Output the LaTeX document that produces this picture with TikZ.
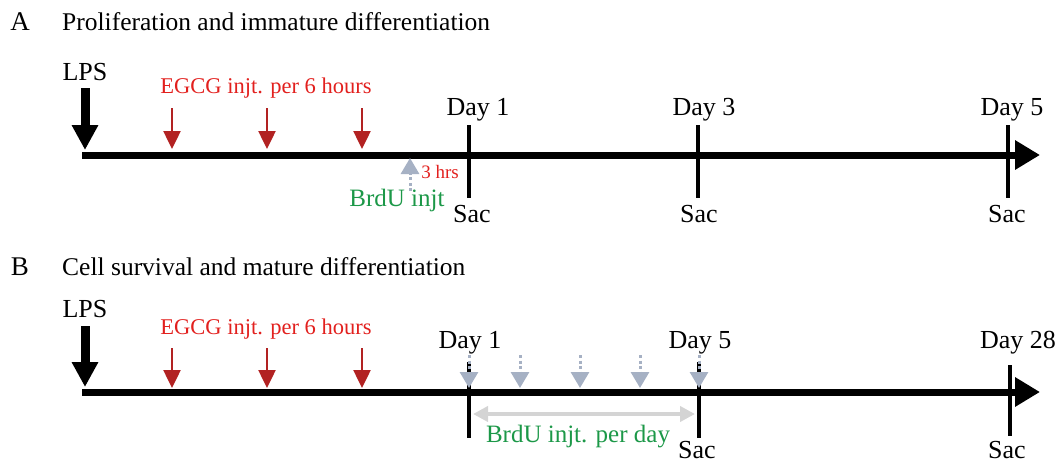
\documentclass[tikz,border=0pt]{standalone}
\usepackage{fontspec}
\setmainfont{Liberation Serif}
\usetikzlibrary{arrows.meta}
\definecolor{egcgred}{RGB}{178,34,34}
\definecolor{txtred}{RGB}{226,32,30}
\definecolor{brdugreen}{RGB}{28,152,72}
\definecolor{brdugray}{RGB}{166,177,196}
\definecolor{spangray}{RGB}{212,212,212}

\begin{document}
\begin{tikzpicture}[x=1pt,y=-1pt,
  lab/.style={inner sep=0pt,font=\fontsize{26}{31}\selectfont},
  tag/.style={inner sep=0pt,font=\fontsize{27}{32}\selectfont},
  heading/.style={inner sep=0pt,anchor=west,font=\fontsize{25.5}{30}\selectfont},
  redlab/.style={inner sep=0pt,text=txtred,font=\fontsize{22.5}{27}\selectfont},
  greenlab/.style={inner sep=0pt,text=brdugreen,font=\fontsize{25}{30}\selectfont},
  timeline/.style={line width=7pt,-{Triangle[length=25pt,width=28pt]}},
  daytick/.style={line width=4.5pt},
  lpsarrow/.style={line width=9pt,-{Triangle[length=25pt,width=25pt]}},
  egcgarrow/.style={draw=egcgred,line width=2.5pt,-{Triangle[length=18pt,width=17pt]}},
  brduarrow/.style={draw=brdugray,line width=3pt,dash pattern=on 3pt off 2.5pt,
    -{Triangle[length=16pt,width=18pt,fill=brdugray]}}]
\useasboundingbox (0,0) rectangle (1062,463);

% panel A
\node[tag] (a-tag) at (20,22) {A};
\node[heading] (a-title) at (62,22) {Proliferation and immature differentiation};
\draw[timeline] (82,155) -- (1040,155);
\node[lab] (a-lps) at (85,72) {LPS};
\draw[lpsarrow] (85,88) -- (85,150);
\node[redlab] (a-egcg) at (266,88) {EGCG injt. per 6 hours};
\foreach \x in {172,267,362}
  \draw[egcgarrow] (\x,108) -- (\x,149);
\draw[daytick] (469,125) -- (469,198);
\draw[daytick] (698,125) -- (698,198);
\draw[daytick] (1008,125) -- (1008,198);
\node[lab] (a-day1) at (478,110) {Day 1};
\node[lab] (a-day3) at (704,110) {Day 3};
\node[lab] (a-day5) at (1012,110) {Day 5};
\node[lab] (a-sac1) at (472,214) {Sac};
\node[lab] (a-sac3) at (699,214) {Sac};
\node[lab] (a-sac5) at (1007,214) {Sac};
\draw[brduarrow] (410,191) -- (410,158);
\node[redlab,font=\fontsize{19}{23}\selectfont] (a-hrs) at (440,172) {3 hrs};
\node[greenlab] (a-brdu) at (397,200) {BrdU injt};

% panel B
\node[tag] (b-tag) at (20,267) {B};
\node[heading] (b-title) at (62,267) {Cell survival and mature differentiation};
\draw[timeline] (82,392) -- (1040,392);
\node[lab] (b-lps) at (85,309) {LPS};
\draw[lpsarrow] (85,326) -- (85,387);
\node[redlab] (b-egcg) at (266,329) {EGCG injt. per 6 hours};
\foreach \x in {172,267,362}
  \draw[egcgarrow] (\x,348) -- (\x,388);
\draw[daytick] (469,362) -- (469,438);
\draw[daytick] (699,362) -- (699,438);
\draw[daytick] (1010,365) -- (1010,436);
\foreach \x in {469,520,580,640,699}
  \draw[brduarrow] (\x,355) -- (\x,388);
\draw[spangray,line width=4pt,{Triangle[length=15pt,width=15pt]}-{Triangle[length=15pt,width=15pt]}] (473,414) -- (695,414);
\node[lab] (b-day1) at (470,343) {Day 1};
\node[lab] (b-day5) at (700,343) {Day 5};
\node[lab] (b-day28) at (1018,343) {Day 28};
\node[lab] (b-sac5) at (697,450) {Sac};
\node[lab] (b-sac28) at (1007,450) {Sac};
\node[greenlab] (b-brdu) at (578,437) {BrdU injt. per day};
\end{tikzpicture}
\end{document}
